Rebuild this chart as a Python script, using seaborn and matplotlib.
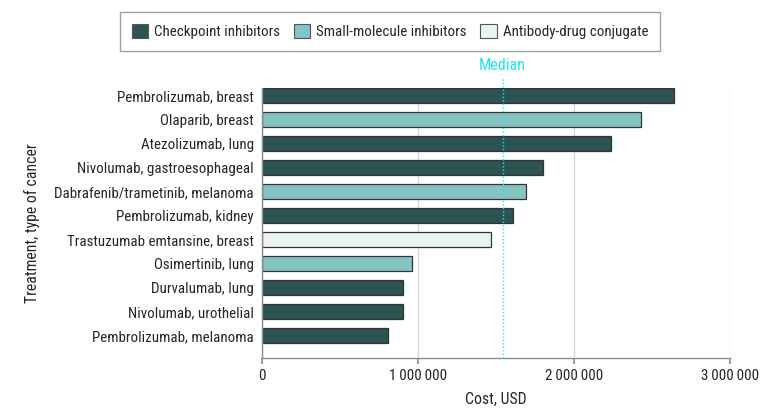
import matplotlib
matplotlib.use("Agg")
import matplotlib.pyplot as plt
import seaborn as sns
import pandas as pd
from matplotlib import font_manager
from matplotlib.patches import Patch
from matplotlib.ticker import FuncFormatter

treatments = [
    "Pembrolizumab, breast",
    "Olaparib, breast",
    "Atezolizumab, lung",
    "Nivolumab, gastroesophageal",
    "Dabrafenib/trametinib, melanoma",
    "Pembrolizumab, kidney",
    "Trastuzumab emtansine, breast",
    "Osimertinib, lung",
    "Durvalumab, lung",
    "Nivolumab, urothelial",
    "Pembrolizumab, melanoma",
]
costs = [2641000, 2427000, 2235000, 1804000, 1691000, 1610000,
         1471000, 960000, 905000, 905000, 806000]
classes = [
    "Checkpoint inhibitors",
    "Small-molecule inhibitors",
    "Checkpoint inhibitors",
    "Checkpoint inhibitors",
    "Small-molecule inhibitors",
    "Checkpoint inhibitors",
    "Antibody-drug conjugate",
    "Small-molecule inhibitors",
    "Checkpoint inhibitors",
    "Checkpoint inhibitors",
    "Checkpoint inhibitors",
]
class_order = ["Checkpoint inhibitors", "Small-molecule inhibitors", "Antibody-drug conjugate"]
class_colors = ["#2b5453", "#85c4c2", "#eaf3f4"]
median_cost = 1542000
x_ticks = [0, 1000000, 2000000, 3000000]

df = pd.DataFrame({"Treatment": treatments, "Cost": costs, "Class": classes})

sns.set_theme(style="white")
avail = {f.name for f in font_manager.fontManager.ttflist}
fam = "DejaVu Sans"
for cand in ["Liberation Sans Narrow", "Roboto Condensed", "Open Sans Condensed", "Lato", "Open Sans"]:
    if cand in avail:
        fam = cand
        break
plt.rcParams["font.family"] = [fam, "DejaVu Sans"]

FS = 10.8
fig = plt.figure(figsize=(7.8, 4.13), dpi=100)
ax = fig.add_axes([262 / 780, 1 - 358 / 413, (730 - 262) / 780, (358 - 88.3) / 413])

palette = dict(zip(class_order, class_colors))
sns.barplot(data=df, y="Treatment", x="Cost", hue="Class", hue_order=class_order,
            palette=palette, dodge=False, width=0.6, orient="h", ax=ax,
            legend=False, saturation=1, edgecolor="#333333", linewidth=0.9)

ax.set_xlim(0, 3000000)
ax.set_ylim(len(treatments) - 1 + 0.94, -0.3)
ax.set_xticks(x_ticks)
ax.xaxis.set_major_formatter(FuncFormatter(lambda v, p: f"{int(v):,}".replace(",", "\u2009")))
ax.grid(axis="x", color="#d9d9d9", linewidth=1)
ax.set_axisbelow(True)
for s in ["top", "right"]:
    ax.spines[s].set_visible(False)
for s in ["left", "bottom"]:
    ax.spines[s].set_color("#8c8c8c")
    ax.spines[s].set_linewidth(1)
ax.tick_params(axis="x", length=4, color="#8c8c8c", labelsize=FS, pad=4, bottom=True)
ax.tick_params(axis="y", length=0, labelsize=FS, pad=6)
ax.set_xlabel("Cost, USD", fontsize=FS + 0.5, labelpad=6)
ax.set_ylabel("Treatment, type of cancer", fontsize=FS + 0.5, labelpad=10)

# median line
ax.plot([median_cost, median_cost], [len(treatments) - 1 + 0.94, -0.74], color="#22e5f0",
        linestyle=(0, (1, 1.5)), linewidth=1, clip_on=False, zorder=5)
ax.text(median_cost, -0.92, "Median", color="#22e5f0", fontsize=FS + 0.8,
        ha="center", va="bottom", clip_on=False)

handles = [Patch(facecolor=c, edgecolor="#555555", linewidth=0.8, label=l)
           for l, c in zip(class_order, class_colors)]
leg = fig.legend(handles=handles, loc="upper center", bbox_to_anchor=(0.5, 0.99), ncol=3,
                 frameon=True, fancybox=False, edgecolor="#888888", fontsize=FS,
                 handlelength=1.1, handleheight=1.1, handletextpad=0.4, columnspacing=0.9,
                 borderpad=0.8)
leg.get_frame().set_linewidth(1)

fig.savefig("out.png", dpi=100)
